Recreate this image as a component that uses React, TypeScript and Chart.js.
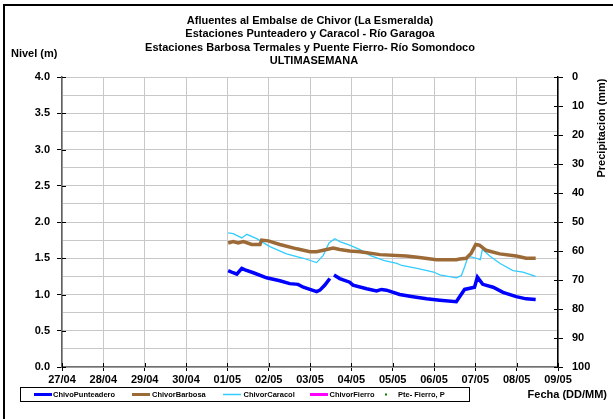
import React, { useEffect, useRef } from 'react';
import { Chart, registerables } from 'chart.js';

Chart.register(...registerables);

// ---- Data (x = days since 27/04 00:00) ----
const dayTickLabels = ['27/04', '28/04', '29/04', '30/04', '01/05', '02/05', '03/05', '04/05', '05/05', '06/05', '07/05', '08/05', '09/05'];

const titleLines = [
  'Afluentes al Embalse de Chivor (La Esmeralda)',
  'Estaciones Punteadero y Caracol - Río Garagoa',
  'Estaciones Barbosa Termales y Puente Fierro- Río Somondoco',
  'ULTIMASEMANA',
];

const seriesNames = ['ChivoPunteadero', 'ChivorBarbosa', 'ChivorCaracol', 'ChivorFierro', 'Pte- Fierro, P'];

const punteaderoDays = [4.02, 4.14, 4.23, 4.35, 4.43, 4.63, 4.95, 5.27, 5.51, 5.71, 5.84, 6.16, 6.24, 6.36, 6.48, 6.53, 6.58, 6.72, 6.96, 7.04, 7.37, 7.61, 7.73, 7.85, 8.17, 8.49, 8.82, 9.14, 9.54, 9.62, 9.74, 9.98, 10.05, 10.18, 10.43, 10.67, 10.99, 11.23, 11.46];
const punteaderoLevels = [1.33, 1.30, 1.28, 1.36, 1.34, 1.30, 1.23, 1.19, 1.15, 1.14, 1.10, 1.04, 1.06, 1.13, 1.22, null, 1.27, 1.22, 1.17, 1.13, 1.08, 1.05, 1.07, 1.06, 1.00, 0.97, 0.94, 0.92, 0.90, 0.97, 1.07, 1.10, 1.24, 1.14, 1.10, 1.03, 0.97, 0.94, 0.93];

const barbosaDays = [4.02, 4.14, 4.26, 4.39, 4.59, 4.79, 4.83, 4.99, 5.27, 5.68, 6.00, 6.16, 6.32, 6.56, 6.72, 6.96, 7.21, 7.69, 8.33, 8.65, 9.06, 9.54, 9.62, 9.78, 9.90, 10.01, 10.10, 10.26, 10.59, 10.99, 11.23, 11.46];
const barbosaLevels = [1.71, 1.73, 1.71, 1.73, 1.69, 1.69, 1.75, 1.74, 1.69, 1.63, 1.59, 1.59, 1.61, 1.64, 1.62, 1.60, 1.59, 1.55, 1.53, 1.51, 1.48, 1.48, 1.49, 1.50, 1.57, 1.69, 1.68, 1.61, 1.56, 1.53, 1.50, 1.50];

const caracolDays = [4.02, 4.14, 4.35, 4.47, 4.71, 5.03, 5.43, 5.84, 6.16, 6.32, 6.46, 6.60, 6.72, 6.96, 7.21, 7.45, 7.78, 8.10, 8.22, 8.59, 8.99, 9.14, 9.54, 9.66, 9.74, 9.82, 9.90, 10.02, 10.12, 10.17, 10.35, 10.59, 10.91, 11.15, 11.46];
const caracolLevels = [1.85, 1.84, 1.78, 1.83, 1.77, 1.66, 1.56, 1.50, 1.44, 1.54, 1.71, 1.77, 1.73, 1.68, 1.62, 1.54, 1.47, 1.43, 1.40, 1.36, 1.31, 1.27, 1.23, 1.26, 1.38, 1.52, 1.52, 1.50, 1.48, 1.62, 1.53, 1.43, 1.33, 1.31, 1.25];

const fierroDays: number[] = [];
const fierroLevels: number[] = [];
const fierroRainDays: number[] = [];
const fierroRain: number[] = [];

const FONT = '"Liberation Sans", Arial, Helvetica, sans-serif';

const colors = ['#0000FF', '#9C6A36', '#33CCFF', '#FF00FF', '#008000'];

function toPoints(xs: number[], ys: (number | null)[]) {
  return xs.map((x, i) => ({ x, y: ys[i] }));
}

const overlayPlugin = {
  id: 'overlay',
  afterDraw(chart: any) {
    const ctx = chart.ctx as CanvasRenderingContext2D;
    const area = chart.chartArea;
    const sx = chart.scales.x;
    const sy = chart.scales.y;
    const sy1 = chart.scales.y1;
    ctx.save();

    // inner halves of crossing tick marks
    ctx.strokeStyle = '#000';
    ctx.lineWidth = 1;
    ctx.beginPath();
    for (let d = 0; d <= 12; d++) {
      const px = Math.round(sx.getPixelForValue(d)) + 0.5;
      ctx.moveTo(px, area.bottom);
      ctx.lineTo(px, area.bottom - 4);
    }
    for (let v = 0; v <= 4; v += 0.5) {
      const py = Math.round(sy.getPixelForValue(v)) + 0.5;
      ctx.moveTo(area.left, py);
      ctx.lineTo(area.left + 4, py);
    }
    for (let v = 0; v <= 100; v += 10) {
      const py = Math.round(sy1.getPixelForValue(v)) + 0.5;
      ctx.moveTo(area.right, py);
      ctx.lineTo(area.right - 4, py);
    }
    ctx.stroke();

    // outer frame
    ctx.strokeStyle = '#000';
    ctx.lineWidth = 2;
    ctx.beginPath();
    ctx.moveTo(4, 430);
    ctx.lineTo(4, 5);
    ctx.lineTo(620, 5);
    ctx.stroke();

    // title
    ctx.fillStyle = '#000';
    ctx.textAlign = 'center';
    ctx.textBaseline = 'middle';
    ctx.font = `bold 11px ${FONT}`;
    const cx = (area.left + area.right) / 2;
    const ys = [20.5, 34, 47.5, 61];
    titleLines.forEach((t, i) => {
      ctx.fillText(t, cx + (i === 3 ? 4 : 0), ys[i]);
    });

    // left axis title
    ctx.textAlign = 'left';
    ctx.fillText('Nivel (m)', 11, 53.5);

    // x axis title
    ctx.textAlign = 'right';
    ctx.fillText('Fecha (DD/MM)', 607, 395);

    // right axis title
    ctx.save();
    ctx.translate(602, 128);
    ctx.rotate(-Math.PI / 2);
    ctx.textAlign = 'center';
    ctx.fillText('Precipitacion (mm)', 0, 0);
    ctx.restore();

    // legend
    const box = { l: 20.5, t: 387.5, r: 469.5, b: 401.5 };
    ctx.strokeStyle = '#000';
    ctx.lineWidth = 1;
    ctx.strokeRect(box.l, box.t, box.r - box.l, box.b - box.t);
    const ly = (box.t + box.b) / 2;
    const lineStarts = [34, 132, 223, 310];
    const textStarts = [53, 152, 243.5, 329.5, 398];
    const widths = [3, 3, 1.5, 3];
    ctx.font = `bold 7.5px ${FONT}`;
    ctx.textAlign = 'left';
    ctx.textBaseline = 'middle';
    for (let i = 0; i < 4; i++) {
      ctx.strokeStyle = colors[i];
      ctx.lineWidth = widths[i];
      ctx.beginPath();
      ctx.moveTo(lineStarts[i], ly);
      ctx.lineTo(lineStarts[i] + 18, ly);
      ctx.stroke();
    }
    ctx.fillStyle = colors[4];
    ctx.fillRect(385, ly - 1, 2, 2);
    ctx.fillStyle = '#000';
    seriesNames.forEach((n, i) => ctx.fillText(n, textStarts[i], ly + 0.5));
    ctx.restore();
  },
};

export default function App() {
  const ref = useRef<HTMLCanvasElement | null>(null);
  useEffect(() => {
    if (!ref.current) return;
    Chart.defaults.font.family = FONT;
    const chart = new Chart(ref.current, {
      type: 'line',
      data: {
        datasets: [
          { label: seriesNames[0], data: toPoints(punteaderoDays, punteaderoLevels), borderColor: colors[0], backgroundColor: colors[0], borderWidth: 3.5, pointRadius: 0, yAxisID: 'y', spanGaps: false },
          { label: seriesNames[1], data: toPoints(barbosaDays, barbosaLevels), borderColor: colors[1], backgroundColor: colors[1], borderWidth: 3.5, pointRadius: 0, yAxisID: 'y' },
          { label: seriesNames[2], data: toPoints(caracolDays, caracolLevels), borderColor: colors[2], backgroundColor: colors[2], borderWidth: 1.3, pointRadius: 0, yAxisID: 'y' },
          { label: seriesNames[3], data: toPoints(fierroDays, fierroLevels), borderColor: colors[3], backgroundColor: colors[3], borderWidth: 3, pointRadius: 0, yAxisID: 'y' },
          { label: seriesNames[4], data: toPoints(fierroRainDays, fierroRain), borderColor: colors[4], backgroundColor: colors[4], showLine: false, pointRadius: 1, yAxisID: 'y1' },
        ],
      },
      options: {
        responsive: false,
        animation: false,
        events: [],
        layout: { padding: { top: 77, left: 0, right: 0, bottom: 0 } },
        plugins: { legend: { display: false }, title: { display: false }, tooltip: { enabled: false } },
        scales: {
          x: {
            type: 'linear',
            min: 0,
            max: 12,
            ticks: {
              stepSize: 1,
              autoSkip: false,
              maxRotation: 0,
              padding: 2,
              color: '#000',
              font: { size: 11, weight: 'bold' },
              callback: (v: any) => dayTickLabels[Math.round(v)] ?? '',
            },
            grid: { color: '#C8C8C8', lineWidth: 1, tickLength: 4, tickColor: '#000' },
            border: { display: true, color: '#707070', width: 1.5 },
            afterFit: (s: any) => { s.height = 52; },
          },
          y: {
            type: 'linear',
            position: 'left',
            min: 0,
            max: 4,
            ticks: {
              stepSize: 0.25,
              autoSkip: false,
              padding: 7,
              color: '#000',
              font: { size: 11, weight: 'bold' },
              callback: (v: any) => (Math.round(v * 4) % 2 === 0 ? Number(v).toFixed(1) : ''),
            },
            grid: {
              color: '#C8C8C8',
              lineWidth: 1,
              tickLength: 5,
              tickColor: (c: any) => (c.tick && Math.round(c.tick.value * 4) % 2 === 0 ? '#000' : 'rgba(0,0,0,0)'),
            },
            border: { display: true, color: '#606060', width: 1.5 },
            afterFit: (s: any) => { s.width = 62; },
          },
          y1: {
            type: 'linear',
            position: 'right',
            min: 0,
            max: 100,
            reverse: true,
            ticks: { stepSize: 10, autoSkip: false, padding: 9, color: '#000', font: { size: 11, weight: 'bold' } },
            grid: { drawOnChartArea: false, tickLength: 5, tickColor: '#000' },
            border: { display: true, color: '#000', width: 1.5 },
            afterFit: (s: any) => { s.width = 55; },
          },
        },
      },
      plugins: [overlayPlugin],
    } as any);
    return () => chart.destroy();
  }, []);
  return (
    <div style={{ position: 'fixed', left: 0, top: 0, width: 613, height: 419, background: '#fff' }}>
      <canvas ref={ref} width={613} height={419} style={{ width: 613, height: 419, display: 'block' }} />
    </div>
  );
}
